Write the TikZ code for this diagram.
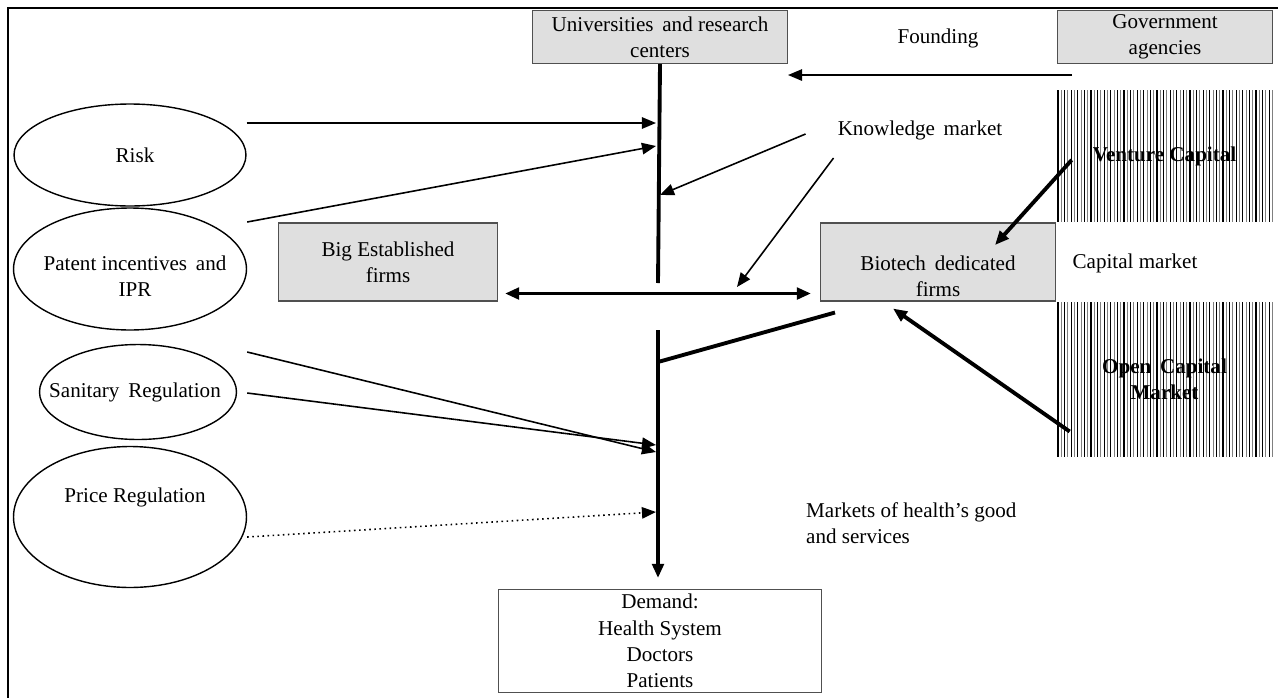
\documentclass[tikz,border=0pt]{standalone}
\usepackage{fontspec}
\setmainfont{Liberation Serif}
\usepackage{xcolor}
\usetikzlibrary{arrows.meta,shapes.geometric}
\definecolor{boxgray}{HTML}{DFDFDF}
\definecolor{edgegray}{HTML}{505050}

\begin{document}
\begin{tikzpicture}[x=0.02cm,y=-0.02cm,font=\fontsize{12}{14.9}\selectfont,
  >={Triangle[length=8pt,width=6.5pt]},
  graybox/.style={draw=edgegray,fill=boxgray,align=center,inner sep=0pt,line width=0.6pt},
  oval/.style={draw,ellipse,inner sep=0pt,line width=0.8pt},
  hatchbox/.style={align=center,inner sep=0pt,minimum width=4.3cm,font=\fontsize{12}{14.9}\selectfont\bfseries},
  thin/.style={line width=0.9pt},
  thick/.style={line width=2.2pt}]
\useasboundingbox (0,0) rectangle (1278,697);
\clip (0,0) rectangle (1278,697);
\draw[line width=1.2pt] (8,8) rectangle (1300,720);
% hatched capital boxes
\foreach \k in {0,...,32} {
  \draw[line width=0.6pt] (1058+\k*6.6,90) -- (1058+\k*6.6,222);
  \draw[line width=0.6pt,gray] (1061.3+\k*6.6,90) -- (1061.3+\k*6.6,222);
  \draw[line width=0.6pt] (1058+\k*6.6,302) -- (1058+\k*6.6,457);
  \draw[line width=0.6pt,gray] (1061.3+\k*6.6,302) -- (1061.3+\k*6.6,457);
}
% boxes
\node[graybox,minimum width=5.1cm,minimum height=1.06cm] (univ) at (660,37) {Universities\, and research\\centers};
\node[graybox,minimum width=4.3cm,minimum height=1.06cm] (gov) at (1165,37) {Government\\agencies};
\node[graybox,minimum width=4.38cm,minimum height=1.56cm] (big) at (388,262) {Big Established\\firms};
\node[graybox,minimum width=4.7cm,minimum height=1.56cm] (bio) at (938,262) {};
\node[align=center] (biotxt) at (938,276) {Biotech\, dedicated\\firms};
\node[draw=edgegray,line width=0.6pt,align=center,minimum width=6.46cm,minimum height=2.06cm,inner sep=0pt] (demand) at (660,641) {Demand:\\Health System\\Doctors\\Patients};
\node[hatchbox,minimum height=2.64cm] (vc) at (1164.5,156) {Venture Capital};
\node[hatchbox,minimum height=3.1cm] (ocm) at (1164.5,379.5) {Open\, Capital\\Market};
% ellipses
\node[oval,minimum width=4.64cm,minimum height=2.04cm] (risk) at (130,155) {};
\node[oval,minimum width=4.66cm,minimum height=2.44cm] (patent) at (130,269) {};
\node[oval,minimum width=3.94cm,minimum height=1.9cm] (sanit) at (138,392) {};
\node[oval,minimum width=4.66cm,minimum height=2.82cm] (price) at (130,517) {};
\node (risktxt) at (135,155) {Risk};
\node[align=center] (patenttxt) at (135,276) {Patent incentives\, and\\IPR};
\node (sanittxt) at (135,392) {Sanitary\, Regulation};
\node (pricetxt) at (135,497) {Price Regulation};
% labels
\node (found) at (938,38) {Founding};
\node (know) at (920,130) {Knowledge\, market};
\node (capm) at (1135,263) {Capital market};
\node[align=left,anchor=west] (mkts) at (800,523) {Markets of health’s good\\and services};
% spine
\coordinate (top) at (658,283);
\coordinate (mid) at (658,330);
\coordinate (bot) at (658,578);
\coordinate (sp1) at (656,123);
\coordinate (sp2) at (656,146);
\coordinate (sp3) at (660,195);
\coordinate (sp4) at (658,362);
\coordinate (sp5) at (656,452);
\coordinate (sp6) at (656,445);
\coordinate (sp7) at (656,512);
\coordinate (hz) at (737,287);
\draw[thick] (univ.south) -- (top);
\draw[thick,->] (mid) -- (bot);
\draw[thin,->] ([shift={(15,11)}]gov.south west) -- ([shift={(0,11)}]univ.south east);
\draw[thin,->] ([shift={(0,-32)}]risk.east) -- (sp1);
\draw[thin,->] ([shift={(0,-47)}]patent.east) -- (sp2);
\draw[thin,->] ([shift={(-26,4)}]know.west) -- (sp3);
\draw[thin,->] ([shift={(2,28)}]know.west) -- (hz);
\draw[thick,<->] ([shift={(7,-8)}]big.south east) -- ([shift={(-9,-8)}]bio.south west);
\draw[thick,->] ([shift={(15,4)}]vc.west) -- ([shift={(57,-17)}]bio.center);
\draw[thick,->] ([shift={(13,52)}]ocm.west) -- ([shift={(-45,7)}]bio.south);
\draw[thick] ([shift={(15,11)}]bio.south west) -- (sp4);
\draw[thin,->] ([shift={(0,83)}]patent.east) -- (sp5);
\draw[thin,->] ([shift={(10,1)}]sanit.east) -- (sp6);
\draw[thin,dotted,->] ([shift={(0,20)}]price.east) -- (sp7);
\end{tikzpicture}
\end{document}
